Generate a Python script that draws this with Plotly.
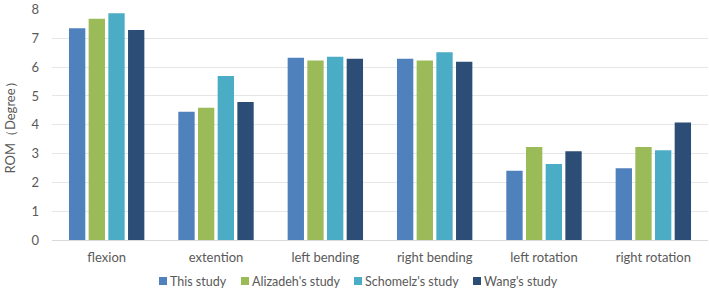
import plotly.graph_objects as go

categories = ["flexion", "extention", "left bending", "right bending", "left rotation", "right rotation"]
this_study = [7.35, 4.45, 6.33, 6.29, 2.40, 2.49]
alizadeh = [7.68, 4.59, 6.23, 6.23, 3.23, 3.23]
schomelz = [7.87, 5.69, 6.36, 6.52, 2.64, 3.12]
wang = [7.29, 4.79, 6.29, 6.19, 3.08, 4.08]
series_names = ["This study", "Alizadeh's study", "Schomelz's study", "Wang's study"]
colors = ["#4F81BD", "#9BBB59", "#4BACC6", "#2C4D75"]

W, H = 709, 290
ML, MR, MT, MB = 52, 1, 9, 50
PW, PH = W - ML - MR, H - MT - MB

def px_to_paper_x(px):
    return (px - ML) / PW

def px_to_paper_y(py):
    return (H - MB - py) / PH

fig = go.Figure()
for name, vals, c in zip(series_names, [this_study, alizadeh, schomelz, wang], colors):
    fig.add_trace(go.Bar(x=categories, y=vals, name=name, marker=dict(color=c, line=dict(width=0)),
                         showlegend=False))

font_color = "#595959"
font_family = "Lato, Open Sans, sans-serif"

# custom legend (compact, like the original)
legend_sq_x = [159, 241, 354, 473]
legend_cy = 281
shapes, annotations = [], []
for sx, name, c in zip(legend_sq_x, series_names, colors):
    shapes.append(dict(type="rect", xref="paper", yref="paper",
                       x0=px_to_paper_x(sx), x1=px_to_paper_x(sx + 8),
                       y0=px_to_paper_y(legend_cy + 4), y1=px_to_paper_y(legend_cy - 4),
                       fillcolor=c, line=dict(width=0)))
    annotations.append(dict(text=name, xref="paper", yref="paper",
                            x=px_to_paper_x(sx + 9), y=px_to_paper_y(legend_cy),
                            xanchor="left", yanchor="middle", showarrow=False,
                            font=dict(size=12.5, color=font_color, family=font_family)))

fig.update_layout(
    width=W, height=H,
    margin=dict(l=ML, r=MR, t=MT, b=MB, autoexpand=False),
    paper_bgcolor="white", plot_bgcolor="white",
    barmode="group", bargap=0.28, bargroupgap=0.17,
    font=dict(family=font_family, size=13, color=font_color),
    showlegend=False,
    shapes=shapes, annotations=annotations,
    xaxis=dict(showline=True, linecolor="#D9D9D9", linewidth=1, ticks="outside", ticklen=5,
               tickcolor="rgba(0,0,0,0)", tickfont=dict(size=13), automargin=False),
    yaxis=dict(range=[0, 8.02], tickvals=[0, 1, 2, 3, 4, 5, 6, 7, 8], showgrid=True,
               gridcolor="#E6E6E6", gridwidth=1, automargin=False, ticklabeloverflow="allow",
               zeroline=False, showline=False, tickfont=dict(size=13), ticklabelstandoff=12,
               title=dict(text="ROM（Degree）", font=dict(size=13, color=font_color), standoff=12)),
)
fig.write_html("out.html", config={"displayModeBar": False},
               post_script="document.body.style.margin='0';")
